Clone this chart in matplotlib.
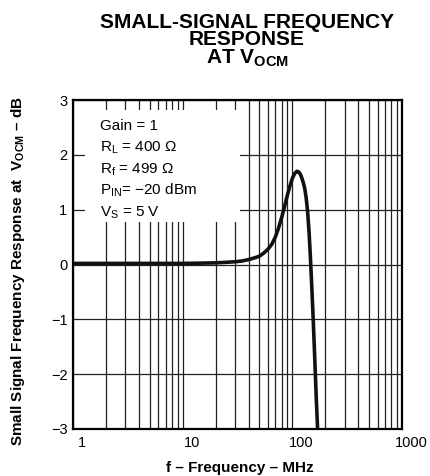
import matplotlib
matplotlib.use("Agg")
import matplotlib.pyplot as plt
from matplotlib.patches import Rectangle
from matplotlib.ticker import FixedLocator, NullFormatter
from matplotlib.transforms import ScaledTranslation

plt.rcParams['font.family'] = ['Liberation Sans', 'DejaVu Sans']
plt.rcParams['mathtext.fontset'] = 'custom'
plt.rcParams['mathtext.rm'] = 'Liberation Sans'
plt.rcParams['mathtext.bf'] = 'Liberation Sans:bold'
plt.rcParams['mathtext.it'] = 'Liberation Sans:italic'
plt.rcParams['axes.unicode_minus'] = True

### Data ###
freq_mhz = [1, 3, 10, 15, 20, 25, 30, 35, 40, 45, 50, 55, 60, 65, 70, 75, 80, 85,
            90, 95, 100, 105, 110, 114, 118, 122, 126, 130, 134, 138, 142, 146,
            150, 155, 160, 165, 170]
response_db = [0.02, 0.02, 0.02, 0.025, 0.03, 0.04, 0.05, 0.065, 0.09, 0.12, 0.15,
               0.21, 0.28, 0.37, 0.50, 0.67, 0.86, 1.06, 1.26, 1.43, 1.57, 1.66,
               1.70, 1.69, 1.65, 1.58, 1.49, 1.38, 1.20, 0.95, 0.60, 0.15,
               -0.35, -1.0, -1.7, -2.4, -3.0]
x_ticks = [1, 10, 100, 1000]
x_tick_labels = ['1', '10', '100', '1000']
y_ticks = [-3, -2, -1, 0, 1, 2, 3]
conditions = ['Gain = 1',
              r'R$_\mathrm{L}$ = 400 Ω',
              r'R$_\mathrm{f}$ = 499 Ω',
              r'P$_\mathrm{IN}$= −20 dBm',
              r'V$_\mathrm{S}$ = 5 V']
#################################

fig = plt.figure(figsize=(4.30, 4.76), dpi=100)
ax = fig.add_axes([73 / 430, 47 / 476, 329 / 430, 329 / 476])

ax.set_xscale('log')
ax.set_xlim(1, 1000)
ax.set_ylim(-3, 3)

minor = [m * 10 ** d for d in range(0, 3) for m in range(2, 10)]
ax.xaxis.set_major_locator(FixedLocator(x_ticks))
ax.xaxis.set_minor_locator(FixedLocator(minor))
ax.xaxis.set_minor_formatter(NullFormatter())
ax.set_xticks(x_ticks)
ax.set_xticklabels(x_tick_labels)
ax.set_yticks(y_ticks)
ax.set_yticklabels([str(v).replace('-', '−') for v in y_ticks])
ax.tick_params(which='both', length=0, labelsize=10.5, colors='black')
ax.tick_params(axis='x', pad=5)
ax.tick_params(axis='y', pad=4)

# x tick labels sit a bit right of their gridlines in the original
offset = ScaledTranslation(9 / 100, 0, fig.dpi_scale_trans)
for lbl in ax.get_xticklabels():
    lbl.set_transform(lbl.get_transform() + offset)

ax.set_axisbelow(True)
ax.grid(which='both', axis='x', color='#202020', lw=0.9)
ax.grid(which='major', axis='y', color='#202020', lw=0.9)
for s in ax.spines.values():
    s.set_linewidth(1.6)
    s.set_color('black')

# white panel behind the test conditions
ax.add_patch(Rectangle((0.036, 0.63), 0.472, 0.34, transform=ax.transAxes,
                       facecolor='white', edgecolor='none', zorder=1))
y0 = 0.909
for i, txt in enumerate(conditions):
    ax.text(0.082, y0 - i * 0.066, txt, transform=ax.transAxes, fontsize=11,
            va='baseline', ha='left', zorder=3)

ax.plot(freq_mhz, response_db, color='#111111', lw=2.6, zorder=2,
        solid_joinstyle='round', solid_capstyle='butt')

# title, tightly stacked like the original
fig.text(247 / 430, (476 - 13) / 476,
         'SMALL-SIGNAL FREQUENCY\nRESPONSE\n' + r'AT V$_\mathbf{OCM}$',
         ha='center', va='top', multialignment='center', linespacing=0.88,
         fontsize=15, fontweight='bold')

fig.text(240 / 430, (476 - 472) / 476, 'f – Frequency – MHz', ha='center', va='baseline',
         fontsize=11, fontweight='bold')
fig.text(18 / 430, (476 - 271) / 476,
         r'Small Signal Frequency Response at  V$_\mathbf{OCM}$ – dB',
         rotation=90, ha='center', va='center', fontsize=11, fontweight='bold')

fig.savefig('out.png', dpi=100)
